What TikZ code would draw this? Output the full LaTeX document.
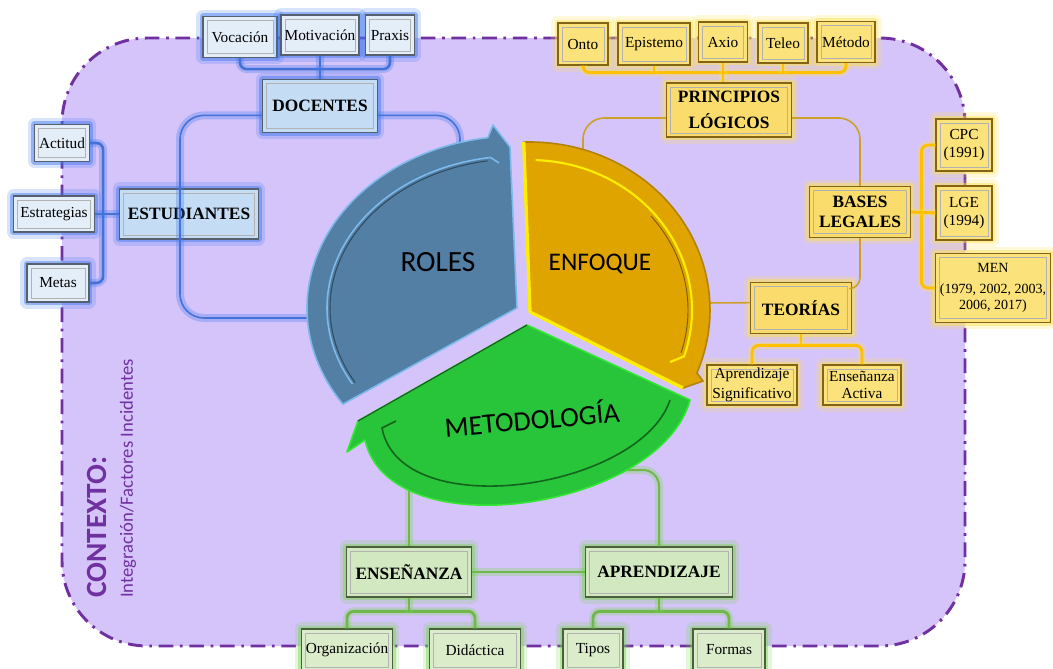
\documentclass[tikz,border=0pt]{standalone}
\usepackage{fontspec}
\setmainfont{Liberation Serif}
\newfontfamily\calibri{Carlito}
\usepackage{xcolor}
\usepackage{tikz}

\definecolor{lila}{RGB}{213,196,250}
\definecolor{morado}{RGB}{112,48,160}
\definecolor{azulfondo}{RGB}{228,238,249}
\definecolor{azulhead}{RGB}{196,221,245}
\definecolor{azulglow}{RGB}{60,120,240}
\definecolor{azullinea}{RGB}{68,114,214}
\definecolor{azulborde}{RGB}{85,95,110}
\definecolor{amfondo}{RGB}{251,226,122}
\definecolor{amhead}{RGB}{249,220,108}
\definecolor{amglow}{RGB}{255,226,70}
\definecolor{amlinea}{RGB}{255,192,0}
\definecolor{amfino}{RGB}{205,160,40}
\definecolor{amborde}{RGB}{130,100,20}
\definecolor{vefondo}{RGB}{218,236,202}
\definecolor{vehead}{RGB}{210,232,192}
\definecolor{veglow}{RGB}{120,214,80}
\definecolor{velinea}{RGB}{112,184,74}
\definecolor{veborde}{RGB}{75,95,60}
\definecolor{roles}{RGB}{82,127,163}
\definecolor{rolesedge}{RGB}{125,185,235}
\definecolor{enfoque}{RGB}{223,164,0}
\definecolor{enfoqueedge}{RGB}{180,130,0}
\definecolor{amarillo}{RGB}{255,238,0}
\definecolor{metodo}{RGB}{40,196,58}
\definecolor{metodoedge}{RGB}{50,230,50}
\definecolor{metododark}{RGB}{20,100,30}

\tikzset{
  caja/.style={rectangle, draw=azulborde, line width=0.9pt, align=center, inner sep=2pt,
    font=\fontsize{11.5}{13}\selectfont,
    path picture={\draw[black!30, line width=.5pt]
      ([shift={(3pt,-3pt)}]path picture bounding box.north west) rectangle
      ([shift={(-3pt,3pt)}]path picture bounding box.south east);}},
  titulo/.style={font=\fontsize{13}{15}\selectfont\bfseries},
  brillo/.style={preaction={draw=#1, line width=10pt, opacity=.2, line join=round},
    preaction={draw=#1, line width=5pt, opacity=.45, line join=round}},
  azul/.style={caja, fill=azulfondo, brillo=azulglow},
  azulT/.style={azul, titulo, fill=azulhead},
  ambar/.style={caja, fill=amfondo, draw=amborde, brillo=amglow},
  ambarT/.style={ambar, titulo, fill=amhead},
  verde/.style={caja, fill=vefondo, draw=veborde, brillo=veglow},
  verdeT/.style={verde, titulo, fill=vehead},
  lazul/.style={draw=azullinea, line width=2pt, rounded corners=5pt,
    preaction={draw=azulglow, line width=6pt, opacity=.3}},
  lazulfino/.style={lazul, line width=1.2pt, rounded corners=18pt},
  lam/.style={draw=amlinea, line width=2.2pt, rounded corners=5pt,
    preaction={draw=amglow, line width=6pt, opacity=.3}},
  lamfino/.style={draw=amfino, line width=1.2pt, rounded corners=16pt},
  lve/.style={draw=velinea, line width=2.2pt, rounded corners=5pt,
    preaction={draw=veglow, line width=6pt, opacity=.3}},
  lvefino/.style={lve, line width=1.5pt, rounded corners=12pt},
}

\begin{document}
\begin{tikzpicture}[x=0.75pt, y=-0.75pt]
\useasboundingbox (0,0) rectangle (1053,668);
\fill[white] (0,0) rectangle (1053,668);
\draw[fill=lila, draw=morado, line width=2.2pt, dash pattern=on 11pt off 5pt on 2pt off 5pt,
  rounded corners=64pt] (62,38) rectangle (965,646);

\coordinate (rolesL) at (310,318);
\coordinate (rolesT) at (460,146);
\coordinate (enfT) at (583,153);
\coordinate (enfR) at (705,303);
\coordinate (metB1) at (409,470);
\coordinate (metB2) at (620,470);

\node[azul, minimum width=55.5pt, minimum height=30.75pt] (voc) at (240,37) {Vocación};
\node[azul, minimum width=58.5pt, minimum height=30pt] (mot) at (320,35) {Motivación};
\node[azul, minimum width=36.75pt, minimum height=30pt] (prx) at (390,35) {Praxis};
\node[azulT, minimum width=86.25pt, minimum height=39.75pt] (doc) at (320,106) {DOCENTES};
\node[azul, minimum width=41.25pt, minimum height=27.75pt] (act) at (62,143) {Actitud};
\node[azul, minimum width=60.75pt, minimum height=27pt] (est) at (54,214) {Estrategias};
\node[azul, minimum width=46.5pt, minimum height=28.5pt] (met) at (58,283) {Metas};
\node[azulT, minimum width=104.25pt, minimum height=37.5pt] (stu) at (189,214) {ESTUDIANTES};

\node[ambar, minimum width=37.5pt, minimum height=31.5pt] (onto) at (583,44) {Onto};
\node[ambar, minimum width=54pt, minimum height=31.5pt] (epi) at (654,44) {Epistemo};
\node[ambar, minimum width=36.75pt, minimum height=30pt] (axio) at (723,42) {Axio};
\node[ambar, minimum width=37.5pt, minimum height=30pt] (tel) at (783,43) {Teleo};
\node[ambar, minimum width=43.5pt, minimum height=30.75pt] (meto) at (846,42) {Método};
\node[ambarT, minimum width=93.75pt, minimum height=40.5pt] (pl) at (729,110) {PRINCIPIOS\\[4pt]LÓGICOS};
\node[ambarT, minimum width=75.75pt, minimum height=38.25pt] (bl) at (860,212) {BASES\\LEGALES};
\node[ambarT, minimum width=75.75pt, minimum height=38.25pt] (teo) at (801,308) {TEORÍAS};
\node[ambar, minimum width=42pt, minimum height=39pt] (cpc) at (964,145) {CPC\\(1991)};
\node[ambar, minimum width=42pt, minimum height=40.5pt] (lge) at (964,213) {LGE\\(1994)};
\node[ambar, minimum width=86pt, minimum height=51.75pt, font=\fontsize{10.5}{12.5}\selectfont]
  (men) at (993,288) {MEN\\[3pt](1979, 2002, 2003,\\2006, 2017)};
\node[ambar, minimum width=67.5pt, minimum height=30pt] (aps) at (752,385) {Aprendizaje\\[2pt]Significativo};
\node[ambar, minimum width=58.5pt, minimum height=30pt] (ena) at (862,385) {Enseñanza\\Activa};

\node[verdeT, minimum width=93.75pt, minimum height=37.5pt] (ens) at (409,572) {ENSEÑANZA};
\node[verdeT, minimum width=110.25pt, minimum height=37.5pt] (apr) at (659,572) {APRENDIZAJE};
\node[verde, minimum width=68.25pt, minimum height=31.5pt] (org) at (347,650) {Organización};
\node[verde, minimum width=68.25pt, minimum height=31.5pt] (did) at (475,650) {Didáctica};
\node[verde, minimum width=45pt, minimum height=31.5pt] (tip) at (593,650) {Tipos};
\node[verde, minimum width=54pt, minimum height=31.5pt] (frm) at (729,650) {Formas};

\draw[lazul] (voc.south) -- ++(0,11) -| (prx.south);
\draw[lazul] (mot.south) -- (doc.north);
\draw[lazul] (act.east) -- ++(13,0) |- (met.east);
\draw[lazul] (est.east) -- (stu.west);
\draw[lazulfino] ([yshift=-7pt]doc.west) -| (180,318) -- (rolesL);
\draw[lazulfino] ([yshift=-7pt]doc.east) -| (rolesT);

\draw[lam] (onto.south) -- ++(0,7) -| (meto.south);
\draw[lam] (epi.south) -- ++(0,7);
\draw[lam] (tel.south) -- ++(0,9);
\draw[lam] (axio.south) -- (axio.south |- pl.north);
\draw[lamfino] ([yshift=-6pt]pl.west) -| (enfT);
\draw[lamfino] ([yshift=-6pt]pl.east) -| (bl.north);
\draw[lamfino, rounded corners=8pt] (bl.south) |- ([yshift=-5pt]teo.north east);
\draw[lamfino] ([yshift=4pt]teo.west) -- (enfR);
\draw[lam] (cpc.west) -- ++(-14,0) |- (men.west);
\draw[lam] (bl.east) -- (lge.west);
\draw[lam] (teo.south) -- ++(0,12);
\draw[lam] (aps.north) -- ++(0,-19) -| (ena.north);

\draw[lvefino] (ens.north) -- (metB1);
\draw[lvefino] (apr.north) |- (metB2);
\draw[lvefino] (ens.east) -- (apr.west);
\draw[lve] (org.north) -- ++(0,-17) -| (did.north);
\draw[lve] (ens.south) -- ++(0,15);
\draw[lve] (tip.north) -- ++(0,-17) -| (frm.north);
\draw[lve] (apr.south) -- ++(0,15);

\filldraw[fill=roles, draw=rolesedge, line width=1.2pt, line join=round]
  (517,308) -- ++(146:210 and 172) arc[start angle=146, end angle=262, x radius=210, y radius=172]
  -- (493,125) -- (510,147) -- cycle;
\draw[roles!60!black, line width=.8pt] (517,308) ++(150:187 and 149)
  arc[start angle=150, end angle=261, x radius=187, y radius=149];
\draw[rolesedge, line width=1.2pt] (517,308) ++(150:190 and 152)
  arc[start angle=150, end angle=262, x radius=190, y radius=152] -- (499,163);

\filldraw[fill=enfoque, draw=enfoqueedge, line width=1.2pt, line join=round]
  (530,312) -- (523.7,142.1) arc[start angle=-92, end angle=22, x radius=180, y radius=168]
  -- (703,381) -- (683,388) -- cycle;
\draw[amarillo, line width=2.5pt, line join=round] (523.7,142.1) -- (530,312) -- (683,388);
\draw[amarillo, line width=1.6pt] (530,310) ++(-88:162 and 150)
  arc[start angle=-88, end angle=18, x radius=162, y radius=150] -- (670,362);
\draw[enfoqueedge!70!black, line width=.7pt] (530,310) ++(-40:158 and 146)
  arc[start angle=-40, end angle=17, x radius=158, y radius=146];

\filldraw[fill=metodo, draw=metodoedge, line width=1.2pt, line join=round]
  (527,325) -- (690,400) .. controls (660,510) and (390,550) .. (365,440)
  -- (347,452) -- (358,421) -- cycle;
\draw[metododark, line width=1pt] (358,421) -- (527,325);
\draw[metododark, line width=1.2pt] (670,400) .. controls (640,490) and (400,525) .. (382,428) -- (396,421);

\node[font=\calibri\fontsize{22}{26}\selectfont] (troles) at (438,262) {ROLES};
\node[font=\calibri\fontsize{19}{23}\selectfont] (tenf) at (600,264) {ENFOQUE};
\node[font=\calibri\fontsize{21}{25}\selectfont, rotate=5] (tmet) at (532,418) {METODOLOGÍA};

\node[font=\calibri\bfseries\fontsize{22}{26}\selectfont, text=morado, rotate=90, anchor=west,
  inner sep=0pt] (ctx) at (97,598) {CONTEXTO:};
\node[font=\calibri\fontsize{14}{17}\selectfont, text=morado, rotate=90, anchor=west,
  inner sep=0pt] (fac) at (128,598) {Integración/Factores Incidentes};
\end{tikzpicture}
\end{document}
